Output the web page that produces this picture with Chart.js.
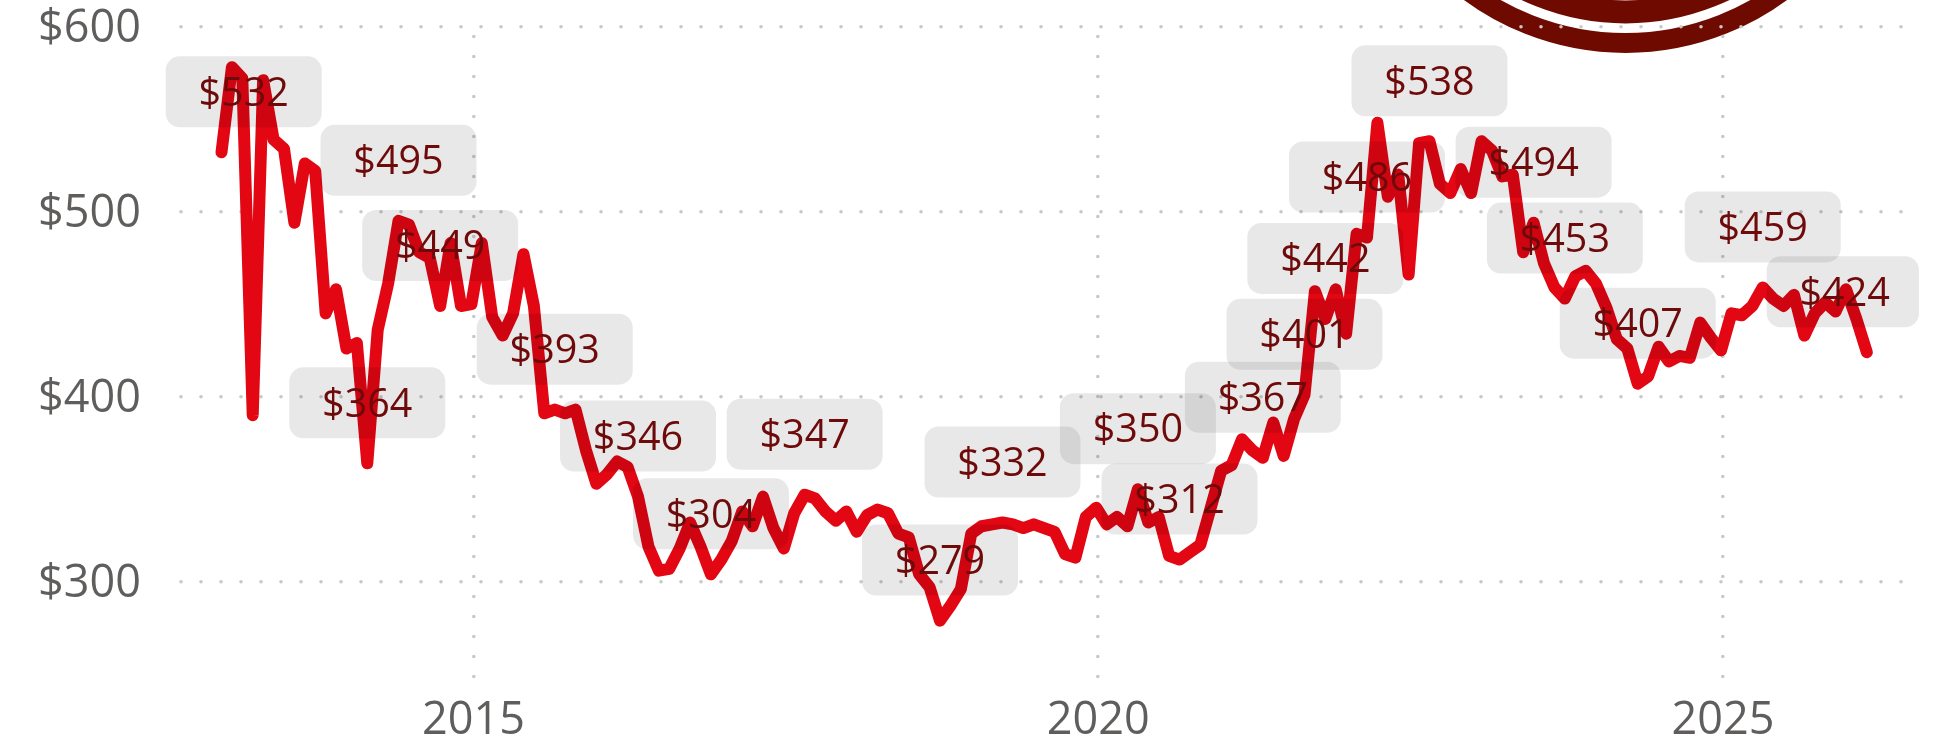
<!DOCTYPE html>
<html><head><meta charset="utf-8">
<style>html,body{margin:0;padding:0;background:#fff;overflow:hidden}canvas{display:block}</style>
<script src="https://cdn.jsdelivr.net/npm/chart.js@4"></script>
</head><body><div style="position:relative;width:1942px;height:754px"><canvas id="c"></canvas></div>
<script>
const months = [
'2013-01','2013-02','2013-03','2013-04','2013-05','2013-06','2013-07','2013-08','2013-09','2013-10','2013-11','2013-12',
'2014-01','2014-02','2014-03','2014-04','2014-05','2014-06','2014-07','2014-08','2014-09','2014-10','2014-11','2014-12',
'2015-01','2015-02','2015-03','2015-04','2015-05','2015-06','2015-07','2015-08','2015-09','2015-10','2015-11','2015-12',
'2016-01','2016-02','2016-03','2016-04','2016-05','2016-06','2016-07','2016-08','2016-09','2016-10','2016-11','2016-12',
'2017-01','2017-02','2017-03','2017-04','2017-05','2017-06','2017-07','2017-08','2017-09','2017-10','2017-11','2017-12',
'2018-01','2018-02','2018-03','2018-04','2018-05','2018-06','2018-07','2018-08','2018-09','2018-10','2018-11','2018-12',
'2019-01','2019-02','2019-03','2019-04','2019-05','2019-06','2019-07','2019-08','2019-09','2019-10','2019-11','2019-12',
'2020-01','2020-02','2020-03','2020-04','2020-05','2020-06','2020-07','2020-08','2020-09','2020-10','2020-11','2020-12',
'2021-01','2021-02','2021-03','2021-04','2021-05','2021-06','2021-07','2021-08','2021-09','2021-10','2021-11','2021-12',
'2022-01','2022-02','2022-03','2022-04','2022-05','2022-06','2022-07','2022-08','2022-09','2022-10','2022-11','2022-12',
'2023-01','2023-02','2023-03','2023-04','2023-05','2023-06','2023-07','2023-08','2023-09','2023-10','2023-11','2023-12',
'2024-01','2024-02','2024-03','2024-04','2024-05','2024-06','2024-07','2024-08','2024-09','2024-10','2024-11','2024-12',
'2025-01','2025-02','2025-03','2025-04','2025-05','2025-06','2025-07','2025-08','2025-09','2025-10','2025-11','2025-12',
'2026-01','2026-02','2026-03'];
const prices = [
532,578,572,390,571,539,534,494,526,522,445,458,
426,429,364,436,461,495,493,478,475,449,483,449,
450,483,443,433,445,477,449,391,393,391,393,371,
353,358,365,362,346,319,306,307,318,332,319,304,
312,322,338,330,346,329,318,337,347,345,338,333,
338,327,336,339,337,326,324,304,297,279,287,296,
326,330,331,332,331,329,331,329,327,315,313,335,
340,331,335,330,350,332,335,314,312,316,320,340,
360,363,377,371,367,386,368,388,401,457,442,458,
434,488,486,548,508,520,466,537,538,515,510,523,
510,538,533,519,520,478,494,472,459,453,465,468,
461,448,431,426,407,411,427,419,422,421,440,432,
425,445,444,449,459,453,449,455,433,445,451,446,
458,442,424];
const labelledMonths = ['2013-01','2014-03','2014-06','2014-10','2015-09','2016-05','2016-12','2017-09','2018-10','2019-04','2020-05','2020-09','2021-05','2021-09','2021-11','2022-03','2022-09','2023-07','2023-10','2024-05','2025-05','2026-03'];
const yearTicks = [2015,2020,2025];
const priceTicks = [300,400,500,600];

// each monthly reading sits just before the first of its month on the axis
const monthLead = 0.016;
const toYear = s => { const [y,m] = s.split('-').map(Number); return y + (m-1)/12 - monthLead; };
const points = months.map((m,i) => ({x: toYear(m), y: prices[i]}));

const style = {
  line:'#E30613', grid:'#c8c8c8', axisText:'#605E5C', labelText:'#6E0A0A',
  labelBg:'rgba(0,0,0,0.09)', logo:'#6E0A00',
  boxW:156, boxH:71, boxR:14, boxLift:60.5, textDrop:2.5, minX:165.7+78, maxX:1844.7, boxRightLimit:1919
};

const logoPlugin = {
  id:'logo',
  beforeDraw(chart){
    const c = chart.ctx;
    c.save();
    c.strokeStyle = style.logo;
    c.lineWidth = 20; c.beginPath(); c.arc(1625.5,-219.6,262.6,0,Math.PI); c.stroke();
    c.lineWidth = 23; c.beginPath(); c.arc(1625.5,-219.6,231.5,0,Math.PI); c.stroke();
    c.restore();
    c.lineCap = 'round';
  }
};
const labelPlugin = {
  id:'valueLabels',
  afterDatasetsDraw(chart){
    const c = chart.ctx, sx = chart.scales.x, sy = chart.scales.y;
    c.save();
    labelledMonths.forEach(m => {
      const i = months.indexOf(m);
      const px = Math.min(style.maxX, Math.max(style.minX, sx.getPixelForValue(points[i].x)));
      const py = sy.getPixelForValue(points[i].y) - style.boxLift;
      const left = px-style.boxW/2, right = Math.min(style.boxRightLimit, px+style.boxW/2);
      c.fillStyle = style.labelBg;
      c.beginPath();
      c.roundRect(left, py-style.boxH/2, right-left, style.boxH, style.boxR);
      c.fill();
      c.fillStyle = style.labelText;
      c.font = '39.5px "Open Sans"';
      c.textAlign = 'center'; c.textBaseline = 'middle';
      c.fillText('$'+points[i].y, px, py+style.textDrop);
    });
    c.restore();
  }
};

new Chart(document.getElementById('c'), {
  type:'line',
  data:{datasets:[{data:points, borderColor:style.line, borderWidth:12, borderCapStyle:'round', borderJoinStyle:'round', pointRadius:0, tension:0, fill:false, clip:false}]},
  plugins:[logoPlugin,labelPlugin],
  options:{
    responsive:true, maintainAspectRatio:false, animation:false,
    layout:{padding:{top:26.5,right:39,bottom:0,left:0}},
    plugins:{legend:{display:false},tooltip:{enabled:false}},
    scales:{
      x:{type:'linear', min:2012.66, max:2026.44,
        afterBuildTicks(s){s.ticks=yearTicks.map(v=>({value:v}));},
        afterFit(s){s.height=76;s.paddingLeft=0;s.paddingRight=0;},
        grid:{color:style.grid,lineWidth:3.6,drawTicks:false},
        border:{display:false,dash:[0,20],dashOffset:10},
        ticks:{autoSkip:false,maxRotation:0,padding:16,color:style.axisText,font:{family:'"Open Sans"',size:45,weight:'400'},callback:v=>String(v)}},
      y:{type:'linear', min:248, max:600,
        afterBuildTicks(s){s.ticks=priceTicks.map(v=>({value:v}));},
        afterFit(s){s.width=181;s.paddingTop=0;s.paddingBottom=0;},
        grid:{color:style.grid,lineWidth:3.6,drawTicks:false},
        border:{display:false,dash:[0,20]},
        ticks:{padding:40,color:style.axisText,font:{family:'"Open Sans"',size:45,weight:'400',lineHeight:'5px'},callback:v=>['','$'+v]}}
    }
  }
});
</script></body></html>
